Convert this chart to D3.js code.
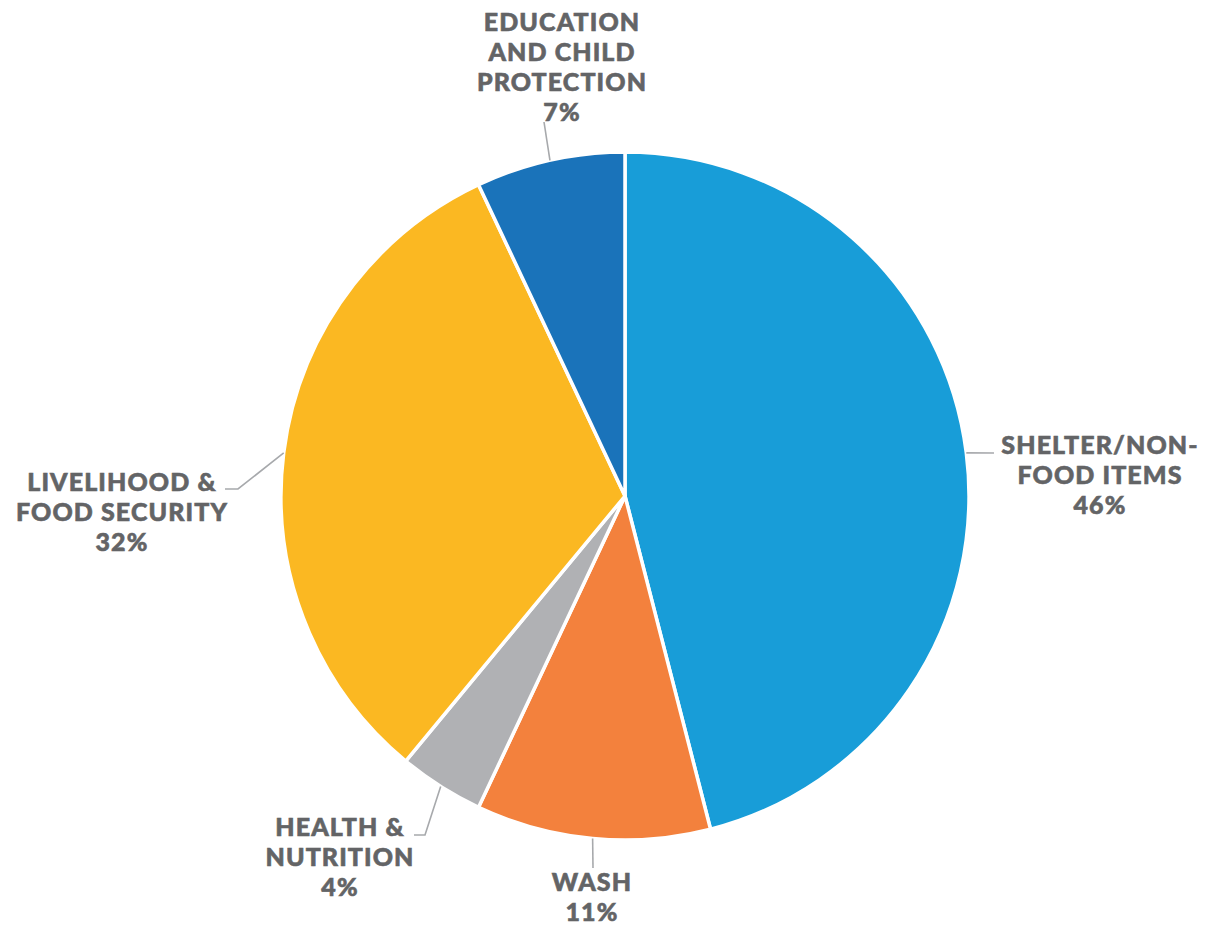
<!DOCTYPE html>
<html>
<head>
<meta charset="utf-8">
<script src="https://cdn.jsdelivr.net/npm/d3@7"></script>
<style>
  body { margin: 0; background: #fff; }
  .pie-label { font-family: Lato, "Open Sans", sans-serif; font-weight: 900; font-size: 25px; letter-spacing: 1.1px; fill: #636466; stroke: #636466; stroke-width: 0.6px; }
  .leader { fill: none; stroke: #a7a9ac; stroke-width: 1.6; }
</style>
</head>
<body>
<div id="chart"></div>
<script>
// sector names and shares (%)
var categories = ["SHELTER/NON-FOOD ITEMS", "WASH", "HEALTH & NUTRITION", "LIVELIHOOD & FOOD SECURITY", "EDUCATION AND CHILD PROTECTION"];
var labelLines = [["SHELTER/NON-", "FOOD ITEMS"], ["WASH"], ["HEALTH &", "NUTRITION"], ["LIVELIHOOD &", "FOOD SECURITY"], ["EDUCATION", "AND CHILD", "PROTECTION"]];
var shares = [46, 11, 4, 32, 7];
var colors = ["#189dd8", "#f3813d", "#b0b1b4", "#fbb822", "#1a73ba"];

// label placement: text centre, first baseline, leader elbow, leader tail end
var labelLayout = [
    {tx: 1100, ty: 454, ex: 994, ey: 453, tail: 994},
    {tx: 592, ty: 891, ex: 593, ey: 868, tail: 593},
    {tx: 340, ty: 836, ex: 425, ey: 835, tail: 414},
    {tx: 122, ty: 491, ex: 238, ey: 489, tail: 225},
    {tx: 562, ty: 31, ex: 544, ey: 122, tail: 544}
];

var width = 1208, height = 926;
var cx = 625, cy = 496, radius = 344;

var data = categories.map(function(c, i) {
    return {name: c, lines: labelLines[i], value: shares[i], color: colors[i], layout: labelLayout[i]};
});

var svg = d3.select("#chart").append("svg")
    .attr("width", width)
    .attr("height", height);

var g = svg.append("g")
    .attr("transform", "translate(" + cx + "," + cy + ")");

var pie = d3.pie()
    .value(function(d) { return d.value; })
    .sort(null);

var arc = d3.arc()
    .innerRadius(0)
    .outerRadius(radius);

var arcs = pie(data);

g.selectAll(".slice")
    .data(arcs)
    .enter().append("path")
    .attr("class", "slice")
    .attr("d", arc)
    .attr("fill", function(d) { return d.data.color; })
    .attr("stroke", "#fff")
    .attr("stroke-width", 3.5)
    .attr("stroke-linejoin", "round");

// leader lines from slice edge to label
svg.selectAll(".leader")
    .data(arcs)
    .enter().append("polyline")
    .attr("class", "leader")
    .attr("points", function(d) {
        var a = (d.startAngle + d.endAngle) / 2;
        var sx = cx + radius * Math.sin(a),
            sy = cy - radius * Math.cos(a);
        var l = d.data.layout;
        return [[sx, sy], [l.ex, l.ey], [l.tail, l.ey]].join(" ");
    });

var labels = svg.selectAll(".pie-label")
    .data(arcs)
    .enter().append("text")
    .attr("class", "pie-label")
    .attr("text-anchor", "middle")
    .attr("x", function(d) { return d.data.layout.tx; })
    .attr("y", function(d) { return d.data.layout.ty; });

labels.each(function(d) {
    var t = d3.select(this);
    var rows = d.data.lines.concat([d.data.value + "%"]);
    rows.forEach(function(r, i) {
        t.append("tspan")
            .attr("x", d.data.layout.tx)
            .attr("dy", i === 0 ? 0 : 30)
            .text(r);
    });
});
</script>
</body>
</html>
